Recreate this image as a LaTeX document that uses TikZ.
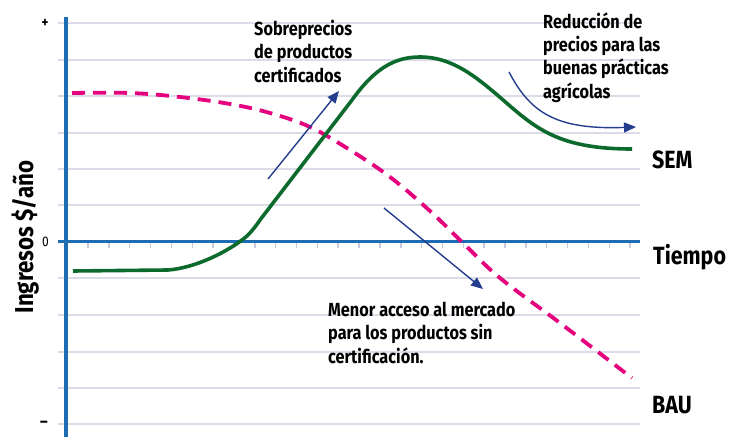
\documentclass[tikz,border=0pt]{standalone}
\usepackage{fontspec}
\setmainfont[FakeStretch=0.86]{Fira Sans}
\usetikzlibrary{arrows.meta}
\definecolor{gridc}{HTML}{DCDBE8}
\definecolor{tickc}{HTML}{C9C8DC}
\definecolor{axisblue}{HTML}{1C6DB4}
\definecolor{semgreen}{HTML}{0B6A2C}
\definecolor{baupink}{HTML}{E5007D}
\definecolor{arrblue}{HTML}{243E8E}
\begin{document}
\begin{tikzpicture}[x=1bp,y=-1bp,
  gridline/.style={gridc, line width=1.7bp},
  ann/.style={font=\fontsize{19}{23.5}\selectfont\bfseries, align=left, inner sep=0, anchor=north west, text=black},
  big/.style={font=\fontsize{25}{30}\selectfont\bfseries, inner sep=0, anchor=base west},
  small/.style={font=\fontsize{14}{16}\selectfont, inner sep=0},
  note/.style={arrblue, line width=1.4bp, -{Triangle[length=12bp,width=10bp]}}]
\useasboundingbox (0,0) rectangle (737,437);
% grid
\foreach \y in {23,60,96,133,169,205,278,315,352,388,424}
  \draw[gridline] (58,\y) -- (640,\y);
\foreach \i in {0,...,26}
  \draw[tickc, line width=1.5bp] ({88+20.85*\i},243) -- ++(0,5.5);
% axes
\draw[axisblue, line width=3bp] (58,242) -- (640,242);
\draw[axisblue, line width=3.2bp] (66,17) -- (66,437);
% axis labels
\node[small, font=\fontsize{15}{16}\selectfont\bfseries] (plus) at (45,23) {+};
\node[small] (zero) at (45.5,242) {0};
\node[small, font=\fontsize{17}{16}\selectfont\bfseries] (minus) at (44,424) {–};
\node[rotate=90, anchor=base, inner sep=0, font=\fontsize{26}{30}\selectfont\bfseries] (ylab) at (33,237) {Ingresos \$/año};
% BAU curve
\draw[baupink, line width=3.8bp, dash pattern=on 13bp off 8bp] plot[smooth, tension=0.6] coordinates
  {(72,93) (130,93) (180,97) (230,104) (270,113) (310,127) (350,150) (390,177) (430,211) (463,243) (500,278) (560,323) (632,378)};
% SEM curve
\draw[semgreen, line width=3.6bp, line join=round]
  (73,271) -- (168,270) .. controls (195,268) and (228,252) .. (247,236)
  .. controls (252,231) and (256,226) .. (260,220) -- (352,100)
  .. controls (375,68) and (395,57) .. (420,57)
  .. controls (455,57) and (480,80) .. (510,106)
  .. controls (540,132) and (565,149) .. (632,149);
% right labels
\node[big] (sem) at (652,169) {SEM};
\node[big] (tiempo) at (653,265) {Tiempo};
\node[big] (bau) at (652,413) {BAU};
% annotations
\node[ann] (sobre) at (254,20) {Sobreprecios\\de productos\\certificados};
\node[ann] (reduc) at (543,12) {Reducción de\\precios para las\\buenas prácticas\\agrícolas};
\node[ann] (menor) at (328,302) {Menor acceso al mercado\\para los productos sin\\certificación.};
% arrows
\coordinate (a1s) at (268,179);
\coordinate (a1e) at (339,91);
\coordinate (a2s) at (384,208);
\coordinate (a2e) at (483,289);
\coordinate (a3s) at (509,72);
\coordinate (a3e) at (636,127);
\draw[note] (a1s) -- (a1e);
\draw[note] (a2s) -- (a2e);
\draw[note] (a3s) .. controls (530,112) and (555,130) .. (a3e);
\end{tikzpicture}
\end{document}
